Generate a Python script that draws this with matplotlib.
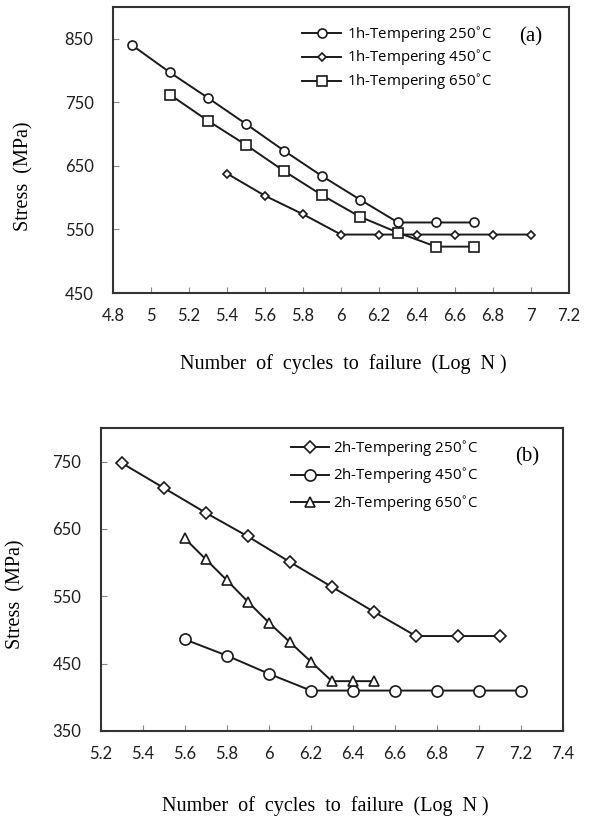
import matplotlib
matplotlib.use("Agg")
import matplotlib.pyplot as plt

# panel (a): 1h tempering
a_x_250 = [4.9, 5.1, 5.3, 5.5, 5.7, 5.9, 6.1, 6.3, 6.5, 6.7]
a_y_250 = [840, 797, 757, 716, 674, 634, 597, 561, 561, 561]
a_x_450 = [5.4, 5.6, 5.8, 6.0, 6.2, 6.4, 6.6, 6.8, 7.0]
a_y_450 = [638, 603, 574, 542, 542, 542, 542, 542, 542]
a_x_650 = [5.1, 5.3, 5.5, 5.7, 5.9, 6.1, 6.3, 6.5, 6.7]
a_y_650 = [762, 721, 683, 642, 604, 570, 545, 523, 523]
a_xticks = [4.8, 5.0, 5.2, 5.4, 5.6, 5.8, 6.0, 6.2, 6.4, 6.6, 6.8, 7.0, 7.2]
a_xticklabels = ["4.8", "5", "5.2", "5.4", "5.6", "5.8", "6", "6.2", "6.4",
                 "6.6", "6.8", "7", "7.2"]
a_yticks = [450, 550, 650, 750, 850]

# panel (b): 2h tempering
b_x_250 = [5.3, 5.5, 5.7, 5.9, 6.1, 6.3, 6.5, 6.7, 6.9, 7.1]
b_y_250 = [748, 711, 674, 639, 601, 564, 527, 491, 491, 491]
b_x_450 = [5.6, 5.8, 6.0, 6.2, 6.4, 6.6, 6.8, 7.0, 7.2]
b_y_450 = [486, 462, 435, 410, 410, 410, 410, 410, 410]
b_x_650 = [5.6, 5.7, 5.8, 5.9, 6.0, 6.1, 6.2, 6.3, 6.4, 6.5]
b_y_650 = [636, 605, 574, 542, 511, 482, 453, 424, 424, 424]
b_xticks = [5.2, 5.4, 5.6, 5.8, 6.0, 6.2, 6.4, 6.6, 6.8, 7.0, 7.2, 7.4]
b_xticklabels = ["5.2", "5.4", "5.6", "5.8", "6", "6.2", "6.4", "6.6", "6.8",
                 "7", "7.2", "7.4"]
b_yticks = [350, 450, 550, 650, 750]

LINE = "#1a1a1a"
SERIF = "Liberation Serif"
TICKFONT = "Lato"
LEGFONT = "Open Sans"

fig = plt.figure(figsize=(5.9, 8.16), dpi=100, facecolor="white")
ax_a = fig.add_axes([0.1915, 0.6409, 0.7729, 0.3505])
ax_b = fig.add_axes([0.1707, 0.1042, 0.7836, 0.3713])


def style_axes(ax, xticks, xlabels, yticks):
    ax.set_xticks(xticks)
    ax.set_xticklabels(xlabels)
    ax.set_yticks(yticks)
    ax.tick_params(direction="in", length=4, width=0.8, color="#888888",
                   labelsize=12, labelcolor="#1e1e1e")
    ax.tick_params(axis="x", pad=10.5)
    ax.tick_params(axis="y", pad=14)
    for lab in ax.get_xticklabels() + ax.get_yticklabels():
        lab.set_fontfamily(TICKFONT)
    for sp in ax.spines.values():
        sp.set_linewidth(1.5)
        sp.set_color("#333333")


def line(ax, x, y, marker, ms, label):
    ax.plot(x, y, color=LINE, lw=1.4, marker=marker, ms=ms,
            mfc="white", mec=LINE, mew=1.2, label=label)


# (a)
line(ax_a, a_x_250, a_y_250, "o", 6.5, "1h-Tempering 250$^{\\circ}$C")
line(ax_a, a_x_450, a_y_450, "D", 4.5, "1h-Tempering 450$^{\\circ}$C")
line(ax_a, a_x_650, a_y_650, "s", 6.5, "1h-Tempering 650$^{\\circ}$C")
ax_a.set_xlim(4.8, 7.2)
ax_a.set_ylim(450, 900)
style_axes(ax_a, a_xticks, a_xticklabels, a_yticks)
ax_a.legend(loc="upper left", bbox_to_anchor=(0.4145, 0.936), frameon=False,
            borderpad=0, borderaxespad=0, handlelength=2.6,
            handletextpad=0.4, labelspacing=0.3,
            prop={"family": LEGFONT, "size": 10.8})
ax_a.text(0.917, 0.895, "(a)", transform=ax_a.transAxes, ha="center",
          va="center", family=SERIF, fontsize=15)
ax_a.set_xlabel("Number  of  cycles  to  failure  (Log  N )", family=SERIF,
                fontsize=14.5)
ax_a.set_ylabel("Stress  (MPa)", family=SERIF, fontsize=14.5)
ax_a.xaxis.set_label_coords(0.504, -0.213)
ax_a.yaxis.set_label_coords(-0.175, 0.409)

# (b)
line(ax_b, b_x_250, b_y_250, "D", 6.2, "2h-Tempering 250$^{\\circ}$C")
line(ax_b, b_x_450, b_y_450, "o", 8, "2h-Tempering 450$^{\\circ}$C")
line(ax_b, b_x_650, b_y_650, "^", 6.5, "2h-Tempering 650$^{\\circ}$C")
ax_b.set_xlim(5.2, 7.4)
ax_b.set_ylim(350, 800)
style_axes(ax_b, b_xticks, b_xticklabels, b_yticks)
ax_b.legend(loc="upper left", bbox_to_anchor=(0.4116, 0.962), frameon=False,
            borderpad=0, borderaxespad=0, handlelength=2.5,
            handletextpad=0.3, labelspacing=0.55,
            prop={"family": LEGFONT, "size": 10.8})
ax_b.text(0.922, 0.904, "(b)", transform=ax_b.transAxes, ha="center",
          va="center", family=SERIF, fontsize=15)
ax_b.set_xlabel("Number  of  cycles  to  failure  (Log  N )", family=SERIF,
                fontsize=14.5)
ax_b.set_ylabel("Stress  (MPa)", family=SERIF, fontsize=14.5)
ax_b.xaxis.set_label_coords(0.485, -0.2145)
ax_b.yaxis.set_label_coords(-0.162, 0.452)

fig.savefig("out.png", dpi=100, facecolor="white")
